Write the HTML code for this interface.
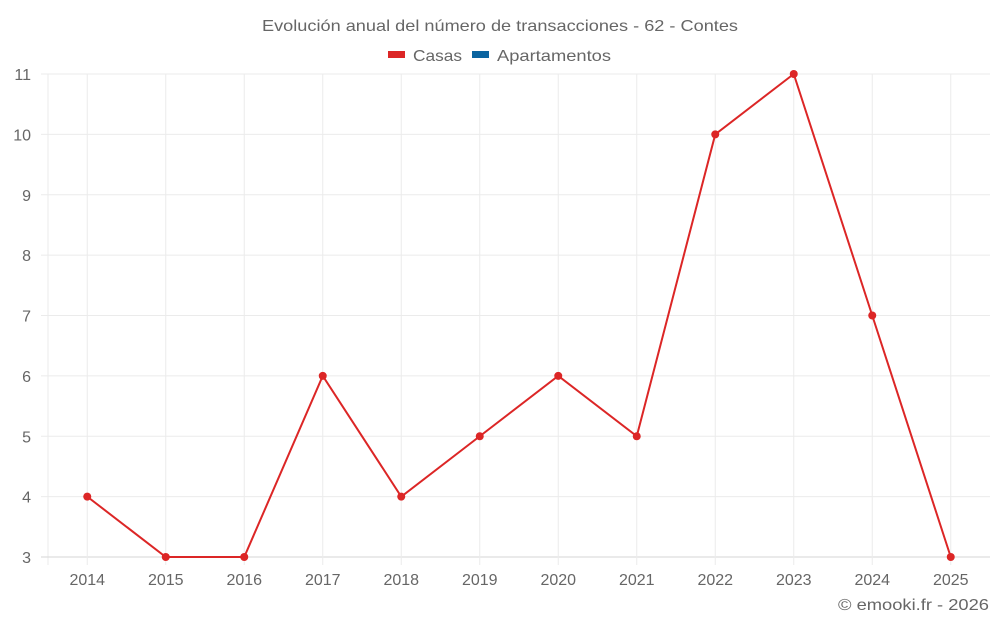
<!DOCTYPE html>
<html><head><meta charset="utf-8"><style>
body{margin:0;background:#fff;}
svg{display:block;font-family:"Liberation Sans",sans-serif;}
</style></head><body>
<svg id="chart" width="1000" height="625">
<text x="262" y="31" textLength="476" lengthAdjust="spacingAndGlyphs" font-size="16" fill="#666">Evolución anual del número de transacciones - 62 - Contes</text>
<g>
<g><rect x="388" y="51" width="17" height="7" fill="#dc2626"/><text x="413" y="61" textLength="49" lengthAdjust="spacingAndGlyphs" font-size="16" fill="#666">Casas</text></g>
<g><rect x="472" y="51" width="17" height="7" fill="#0b64a0"/><text x="497" y="61" textLength="114" lengthAdjust="spacingAndGlyphs" font-size="16" fill="#666">Apartamentos</text></g>
</g>
<g id="grid"></g><g id="axes"></g><g id="series"></g>
<text x="838" y="610" textLength="151" lengthAdjust="spacingAndGlyphs" font-size="16" fill="#666">© emooki.fr - 2026</text>
</svg>
<script>
const categories=["2014","2015","2016","2017","2018","2019","2020","2021","2022","2023","2024","2025"];
const casas=[4,3,3,6,4,5,6,5,10,11,7,3];
const yTicks=[3,4,5,6,7,8,9,10,11];
const L=48,R=990,T=74,B=557,yMin=3,yMax=11;
const step=(R-L)/categories.length;
const x=i=>L+step*(i+0.5);
const y=v=>B-(v-yMin)/(yMax-yMin)*(B-T);
const NS="http://www.w3.org/2000/svg";
function mk(tag,attrs,parent,txt){const e=document.createElementNS(NS,tag);for(const k in attrs)e.setAttribute(k,attrs[k]);if(txt!==undefined)e.textContent=txt;parent.appendChild(e);return e;}
const g=document.getElementById('grid'),ax=document.getElementById('axes'),s=document.getElementById('series');
let e=mk('line',{x1:L,x2:L,y1:T,y2:B+8,stroke:'#ebebeb'},g);


yTicks.forEach(v=>{
 const l=mk('line',{x1:41,x2:R,y1:y(v),y2:y(v),stroke:v===yMin?'#d6d6d6':'#ebebeb'},g);
 
 
 const t=mk('text',{x:31,y:y(v)+6,'text-anchor':'end','font-size':16,fill:'#666'},ax,String(v));
 
 
});
categories.forEach((c,i)=>{
 const l=mk('line',{x1:x(i),x2:x(i),y1:T,y2:B+8,stroke:'#ebebeb'},g);
 
 
 const t=mk('text',{x:x(i),y:585,'text-anchor':'middle','font-size':16,fill:'#666'},ax,c);
 
 
});
const p=mk('polyline',{points:casas.map((v,i)=>x(i)+','+y(v)).join(' '),fill:'none',stroke:'#dc2626','stroke-width':2},s);


casas.forEach((v,i)=>{
 const c=mk('circle',{cx:x(i),cy:y(v),r:4,fill:'#dc2626'},s);
 
 
});
</script>
</body></html>
